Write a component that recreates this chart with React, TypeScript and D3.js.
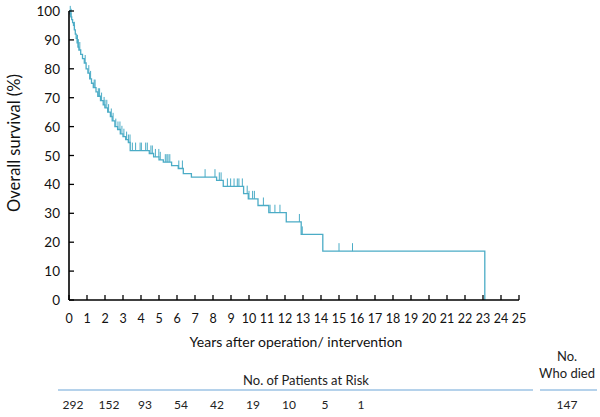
import React from 'react';
import * as d3 from 'd3';

// Kaplan-Meier steps (years, survival %)
const eventYears = [0, 0.05, 0.1, 0.15, 0.2, 0.25, 0.3, 0.35, 0.4, 0.45, 0.5, 0.55, 0.65, 0.75, 0.85, 0.95, 1.05, 1.15, 1.25, 1.35, 1.5, 1.6, 1.75, 1.9, 2.0, 2.15, 2.3, 2.4, 2.55, 2.7, 2.85, 3.0, 3.15, 3.3, 3.4, 4.46, 4.7, 5.0, 5.24, 5.7, 6.07, 6.35, 6.8, 8.2, 8.57, 9.7, 9.96, 10.5, 11.1, 12.07, 12.9, 14.1, 23.1];
const survival = [100, 99, 98, 97, 96, 95, 93.5, 92, 90.5, 89, 87.5, 86.5, 85, 83.5, 82, 80, 78.5, 76.5, 75, 73.5, 72, 70.5, 69, 67.5, 66.5, 65, 63.5, 62, 60, 59, 57.5, 56.5, 55.5, 54.5, 51.7, 50.7, 49.5, 48.5, 47.7, 46.5, 45.5, 43.7, 42.5, 41.4, 39.3, 36.8, 35, 32.7, 30.2, 27, 22.7, 16.9, 0];

// censored observations (years)
const censorYears = [0.07, 0.12, 0.3, 0.47, 0.52, 0.6, 0.9, 1.1, 1.2, 1.4, 1.45, 1.63, 1.7, 1.81, 1.95, 2.0, 2.1, 2.2, 2.35, 2.45, 2.6, 2.72, 2.83, 2.94, 3.05, 3.2, 3.3, 3.39, 3.52, 3.7, 3.95, 4.02, 4.26, 4.35, 4.55, 4.63, 4.8, 4.99, 5.07, 5.35, 5.44, 5.5, 5.6, 6.1, 6.3, 7.56, 8.11, 8.35, 8.45, 8.8, 8.98, 9.17, 9.35, 9.44, 9.63, 9.9, 10.0, 10.2, 10.3, 10.8, 11.17, 11.44, 11.72, 12.8, 12.96, 15.0, 15.75];

const xTicks = d3.range(0, 26);
const yTicks = d3.range(0, 101, 10);

const riskYears = [0, 2, 4, 6, 8, 10, 12, 14, 16];
const riskCounts = [292, 152, 93, 54, 42, 19, 10, 5, 1];
const totalDied = 147;

const BLUE = '#4bacc6';
const FONT = 'Lato, "Noto Sans", sans-serif';

export default function App() {
  const x = d3.scaleLinear().domain([0, 25]).range([69, 519]);
  const y = d3.scaleLinear().domain([0, 100]).range([300, 11]);

  const pts: [number, number][] = eventYears.map((t, i) => [t, survival[i]]);
  const line = d3.line<[number, number]>().curve(d3.curveStepAfter).x(d => x(d[0])).y(d => y(d[1]));

  const levelAt = (t: number) => {
    const i = d3.bisectRight(eventYears, t) - 1;
    return survival[Math.max(0, i)];
  };

  return (
    <div style={{ position: 'absolute', left: 0, top: 0 }}>
      <svg width={600} height={417} style={{ display: 'block', background: '#fff' }} fontFamily={FONT}>
        {/* curve */}
        <path d={line(pts) || ''} fill="none" stroke={BLUE} strokeWidth={1.3} />
        {censorYears.map((t, i) => (
          <line key={i} x1={x(t)} x2={x(t)} y1={y(levelAt(t))} y2={y(levelAt(t)) - 8} stroke={BLUE} strokeWidth={1} />
        ))}

        {/* y axis */}
        <line x1={69} x2={69} y1={y(100)} y2={y(0)} stroke="#000" strokeWidth={1.6} />
        {yTicks.map(v => (
          <g key={v}>
            <line x1={69} x2={74} y1={y(v)} y2={y(v)} stroke="#000" strokeWidth={1.3} />
            <text x={60} y={y(v) + 5} textAnchor="end" fontSize={13.5} fill="#111">{v}</text>
          </g>
        ))}
        {/* x axis */}
        <line x1={x(0)} x2={x(25)} y1={300} y2={300} stroke="#000" strokeWidth={1.6} />
        {xTicks.map(v => (
          <g key={v}>
            <line x1={x(v)} x2={x(v)} y1={300} y2={295} stroke="#000" strokeWidth={1.3} />
            <text x={x(v)} y={323} textAnchor="middle" fontSize={12.5} fill="#111">{v}</text>
          </g>
        ))}

        <text transform="translate(20,143) rotate(-90)" textAnchor="middle" fontSize={16.5} fill="#111">Overall survival (%)</text>
        <text x={296} y={347} textAnchor="middle" fontSize={14} fill="#111">Years after operation/ intervention</text>

        {/* risk table */}
        <text x={306} y={385} textAnchor="middle" fontSize={13} fill="#222">No. of Patients at Risk</text>
        <line x1={58} x2={533} y1={390} y2={390} stroke="#9cc3e5" strokeWidth={1.3} />
        <line x1={540} x2={597} y1={390} y2={390} stroke="#9cc3e5" strokeWidth={1.3} />
        <text x={567} y={361} textAnchor="middle" fontSize={13} fill="#222">No.</text>
        <text x={567} y={378} textAnchor="middle" fontSize={13} fill="#222">Who died</text>
        {riskCounts.map((c, i) => (
          <text key={i} x={x(riskYears[i]) + 4} y={409} textAnchor="middle" fontSize={12} fill="#222">{c}</text>
        ))}
        <text x={567} y={409} textAnchor="middle" fontSize={12} fill="#222">{totalDied}</text>
      </svg>
    </div>
  );
}
